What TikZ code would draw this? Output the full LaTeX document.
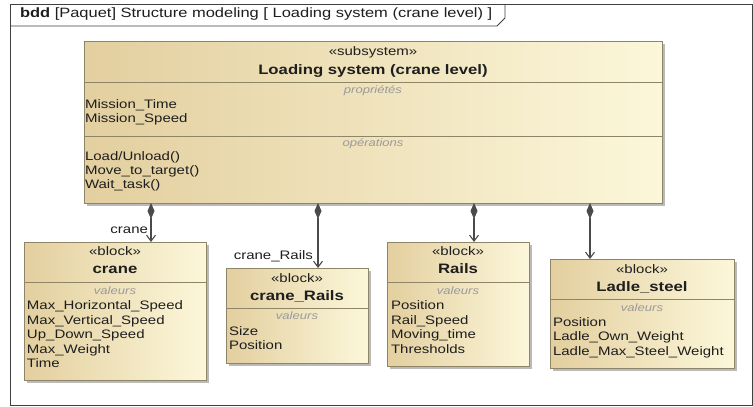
\documentclass[tikz,border=0pt]{standalone}
\usepackage{fontspec}
\setmainfont[FakeStretch=1.22]{Liberation Sans}
\usetikzlibrary{arrows.meta,shadows}
\definecolor{tanL}{HTML}{E3CF9F}
\definecolor{creamR}{HTML}{FCF7DA}
\definecolor{bordc}{HTML}{8E8466}
\definecolor{textc}{HTML}{1E1E1E}
\definecolor{grayc}{HTML}{9A9A9A}
\definecolor{linec}{HTML}{4A4A4A}
\begin{document}
\begin{tikzpicture}[x=1pt,y=-1pt,
  blk/.style={draw=bordc, line width=0.8pt, left color=tanL, right color=creamR,
    drop shadow={shadow xshift=3pt, shadow yshift=-3pt, fill=black!45, opacity=0.6},
    inner sep=0pt, outer sep=0pt, anchor=north west},
  txt/.style={inner sep=0pt, outer sep=0pt, text=textc, font=\fontsize{12.3}{14}\selectfont},
  item/.style={txt, anchor=mid west},
  ttl/.style={inner sep=0pt, outer sep=0pt, text=textc, font=\bfseries\fontsize{13.7}{16}\selectfont, anchor=mid},
  ster/.style={txt, anchor=mid},
  cmp/.style={inner sep=0pt, outer sep=0pt, text=grayc, font=\itshape\fontsize{10.7}{12}\selectfont, anchor=mid},
  sepline/.style={draw=bordc, line width=0.8pt},
  comp/.style={draw=linec, line width=1.1pt,
    {Diamond[length=16pt,width=7pt,fill=linec]}-{Straight Barb[length=6pt,width=9pt,line width=1.1pt]}},
  lbl/.style={txt, anchor=mid east}
]
\useasboundingbox (0,0) rectangle (753,407);
\fill[white] (0,0) rectangle (753,407);
% frame
\draw[line width=0.9pt, draw=black!75] (10,4) rectangle (752,405);
\draw[line width=0.9pt, draw=black!75] (10,26) -- (497,26) -- (505,18) -- (505,4);
\node[inner sep=0pt, outer sep=0pt, text=textc, font=\fontsize{13.5}{15}\selectfont, anchor=mid west] (frametitle) at (20,15) {\textbf{bdd} [Paquet] Structure modeling [ Loading system (crane level) ]};

% main block
\node[blk, minimum width=578pt, minimum height=162pt] (main) at (84,41) {};
\draw[sepline] (84,82) -- (662,82);
\draw[sepline] (84,136) -- (662,136);
\node[ster] (mst) at (373,53) {«subsystem»};
\node[ttl] (mname) at (373,72) {Loading system (crane level)};
\node[cmp] (mprop) at (373,91) {propriétés};
\node[item] (m1) at (85,106) {Mission\_Time};
\node[item] (m2) at (85,120) {Mission\_Speed};
\node[cmp] (mops) at (373,144) {opérations};
\node[item] (m3) at (85,158) {Load/Unload()};
\node[item] (m4) at (85,172) {Move\_to\_target()};
\node[item] (m5) at (85,186) {Wait\_task()};

% crane
\node[blk, minimum width=182pt, minimum height=138pt] (crane) at (24,242) {};
\draw[sepline] (24,282) -- (206,282);
\node[ster] (cst) at (115,253) {«block»};
\node[ttl] (cname) at (115,271) {crane};
\node[cmp] (cval) at (115,292) {valeurs};
\node[item] (c1) at (27,307) {Max\_Horizontal\_Speed};
\node[item] (c2) at (27,321.5) {Max\_Vertical\_Speed};
\node[item] (c3) at (27,336) {Up\_Down\_Speed};
\node[item] (c4) at (27,350.5) {Max\_Weight};
\node[item] (c5) at (27,365) {Time};

% crane_Rails
\node[blk, minimum width=142pt, minimum height=95pt] (rails1) at (226,268) {};
\draw[sepline] (226,308) -- (368,308);
\node[ster] (r1st) at (297,280) {«block»};
\node[ttl] (r1name) at (297,298) {crane\_Rails};
\node[cmp] (r1val) at (297,317) {valeurs};
\node[item] (r1a) at (229,333) {Size};
\node[item] (r1b) at (229,347) {Position};

% Rails
\node[blk, minimum width=142pt, minimum height=124pt] (rails2) at (387,242) {};
\draw[sepline] (387,282) -- (529,282);
\node[ster] (r2st) at (458,253) {«block»};
\node[ttl] (r2name) at (458,271) {Rails};
\node[cmp] (r2val) at (458,292) {valeurs};
\node[item] (r2a) at (391,307) {Position};
\node[item] (r2b) at (391,321.5) {Rail\_Speed};
\node[item] (r2c) at (391,336) {Moving\_time};
\node[item] (r2d) at (391,350.5) {Thresholds};

% Ladle_steel
\node[blk, minimum width=184pt, minimum height=109pt] (ladle) at (550,259) {};
\draw[sepline] (550,299) -- (734,299);
\node[ster] (lst) at (642,271) {«block»};
\node[ttl] (lname) at (642,289) {Ladle\_steel};
\node[cmp] (lval) at (642,309) {valeurs};
\node[item] (la) at (553,323.5) {Position};
\node[item] (lb) at (553,338) {Ladle\_Own\_Weight};
\node[item] (lc) at (553,352.5) {Ladle\_Max\_Steel\_Weight};

% connectors
\coordinate (p1) at (151,203);
\coordinate (p2) at (318,203);
\coordinate (p3) at (474,203);
\coordinate (p4) at (590,203);
\draw[comp] (p1) -- (p1 |- crane.north);
\draw[comp] (p2) -- (p2 |- rails1.north);
\draw[comp] (p3) -- (p3 |- rails2.north);
\draw[comp] (p4) -- (p4 |- ladle.north);
\node[lbl] (l1) at (148,231) {crane};
\node[lbl] (l2) at (313,257) {crane\_Rails};
\end{tikzpicture}
\end{document}
